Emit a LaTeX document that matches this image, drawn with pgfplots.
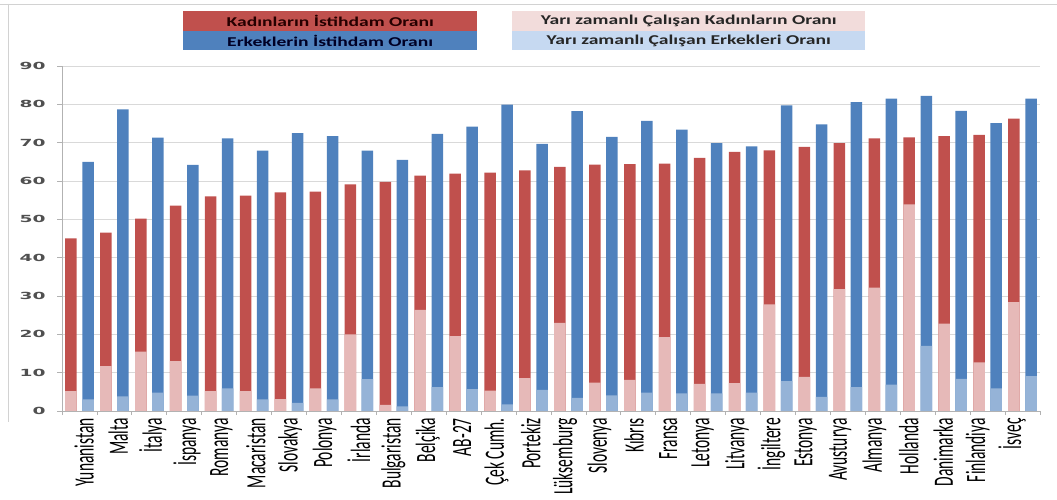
\documentclass[border=0pt]{standalone}
\usepackage{pgfplots}
\pgfplotsset{compat=1.18}
\usepackage{pgfplotstable}
\usepackage{graphicx}
\usepackage{fontspec}
\setmainfont{Carlito}
\newfontfamily\numfont{DejaVu Sans}
\definecolor{cRed}{HTML}{C0504D}
\definecolor{cPink}{HTML}{E6B9B8}
\definecolor{cBlue}{HTML}{4F81BD}
\definecolor{cLBlue}{HTML}{95B3D7}
\definecolor{lPink}{HTML}{F2DCDB}
\definecolor{lBlue}{HTML}{C6D9F1}
\definecolor{tickgray}{HTML}{505050}
\newcommand{\sx}[1]{\scalebox{1}[1.8]{#1}}
\newcommand{\legtxt}[1]{\scalebox{1.45}[1]{\fontsize{13.5}{14}\selectfont\bfseries #1}}

\pgfplotstableread{
i w wp m mp
0 45.0 5.2 65.0 3.0
1 46.5 11.7 78.7 3.8
2 50.2 15.5 71.3 4.8
3 53.6 13.0 64.2 4.0
4 56.0 5.2 71.1 5.9
5 56.2 5.2 67.9 3.0
6 57.0 3.1 72.5 2.1
7 57.2 5.9 71.7 3.0
8 59.1 20.0 67.9 8.3
9 59.8 1.6 65.5 1.2
10 61.4 26.4 72.3 6.2
11 61.9 19.5 74.2 5.7
12 62.2 5.3 79.9 1.7
13 62.8 8.6 69.7 5.5
14 63.7 23.0 78.2 3.4
15 64.3 7.4 71.5 4.1
16 64.4 8.1 75.7 4.8
17 64.5 19.3 73.4 4.6
18 66.0 7.1 69.9 4.6
19 67.6 7.3 69.0 4.8
20 68.0 27.8 79.7 7.8
21 68.9 8.9 74.8 3.7
22 69.9 31.8 80.6 6.2
23 71.1 32.2 81.5 6.9
24 71.4 53.9 82.2 17.0
25 71.7 22.8 78.3 8.4
26 72.0 12.7 75.1 5.9
27 76.3 28.4 81.5 9.1
}\data

\begin{document}
\begin{tikzpicture}
\useasboundingbox (-62pt,-89pt) rectangle (995pt,411pt);
\draw[gray!35, line width=0.8pt] (-62pt,407pt) -- (995pt,407pt);
\draw[gray!35, line width=0.8pt] (-54pt,407pt) -- (-54pt,-11pt);
\begin{axis}[
  at={(0pt,0pt)}, anchor=south west,
  scale only axis, width=978pt, height=345pt,
  xmin=-0.5, xmax=27.5, ymin=0, ymax=90,
  ytick={0,10,...,90},
  /pgf/number format/assume math mode=true,
  xtick={0.13,1.114,2.098,3.082,4.066,5.05,6.034,7.018,8.002,8.986,9.97,10.954,11.938,12.922,13.906,14.89,15.874,16.858,17.842,18.826,19.81,20.794,21.778,22.762,23.746,24.73,25.714,26.698},
  xticklabels={\sx{Yunanistan},\sx{Malta},\sx{İtalya},\sx{İspanya},\sx{Romanya},\sx{Macaristan},\sx{Slovakya},\sx{Polonya},\sx{İrlanda},\sx{Bulgaristan},\sx{Belçika},\sx{AB-27},\sx{Çek Cumh.},\sx{Portekiz},\sx{Lüksemburg},\sx{Slovenya},\sx{Kıbrıs},\sx{Fransa},\sx{Letonya},\sx{Litvanya},\sx{İngiltere},\sx{Estonya},\sx{Avusturya},\sx{Almanya},\sx{Hollanda},\sx{Danimarka},\sx{Finlandiya},\sx{İsveç}},
  minor xtick={-0.5,0.5,...,27.5},
  major x tick style={draw=none},
  minor x tick style={draw=gray!60, line width=0.8pt},
  ytick style={draw=gray!60, line width=0.8pt},
  major tick length=5pt, minor tick length=4pt,
  tick align=outside,
  axis x line*=bottom, axis y line*=left,
  axis line style={draw=gray!60, line width=0.8pt, -},
  ymajorgrids, major grid style={draw=gray!30, line width=0.8pt},
  xticklabel style={rotate=90, anchor=east, font=\fontsize{15.5}{16}\selectfont, text=black, inner sep=2pt},
  yticklabel={\scalebox{1.9}[1]{\numfont\bfseries\fontsize{9.8}{10}\selectfont\pgfmathprintnumber{\tick}}},
  yticklabel style={text=tickgray, anchor=east, xshift=-8pt},
  clip=false,
]
\addplot[ybar, bar width=11.5pt, bar shift=0pt, fill=cRed, draw=none] table[x expr=\thisrow{i}-0.245, y=w] {\data};
\addplot[ybar, bar width=11.5pt, bar shift=0pt, fill=cPink, draw=none] table[x expr=\thisrow{i}-0.245, y=wp] {\data};
\addplot[ybar, bar width=11.5pt, bar shift=0pt, fill=cBlue, draw=none] table[x expr=\thisrow{i}+0.245, y=m] {\data};
\addplot[ybar, bar width=11.5pt, bar shift=0pt, fill=cLBlue, draw=none] table[x expr=\thisrow{i}+0.245, y=mp] {\data};
\end{axis}
\node[fill=cRed, minimum width=294pt, minimum height=19.5pt, anchor=north west, inner sep=0pt, text=black!85!red] at (121pt,400pt) {\legtxt{Kadınların İstihdam Oranı}};
\node[fill=cBlue, minimum width=294pt, minimum height=19.5pt, anchor=north west, inner sep=0pt, text=black!85!blue] at (121pt,380.5pt) {\legtxt{Erkeklerin İstihdam Oranı}};
\node[fill=lPink, minimum width=353pt, minimum height=19.5pt, anchor=north west, inner sep=0pt, text=black!85] at (450pt,400pt) {\legtxt{Yarı zamanlı Çalışan Kadınların Oranı}};
\node[fill=lBlue, minimum width=353pt, minimum height=19.5pt, anchor=north west, inner sep=0pt, text=black!85] at (450pt,380.5pt) {\legtxt{Yarı zamanlı Çalışan Erkekleri Oranı}};
\end{tikzpicture}
\end{document}
